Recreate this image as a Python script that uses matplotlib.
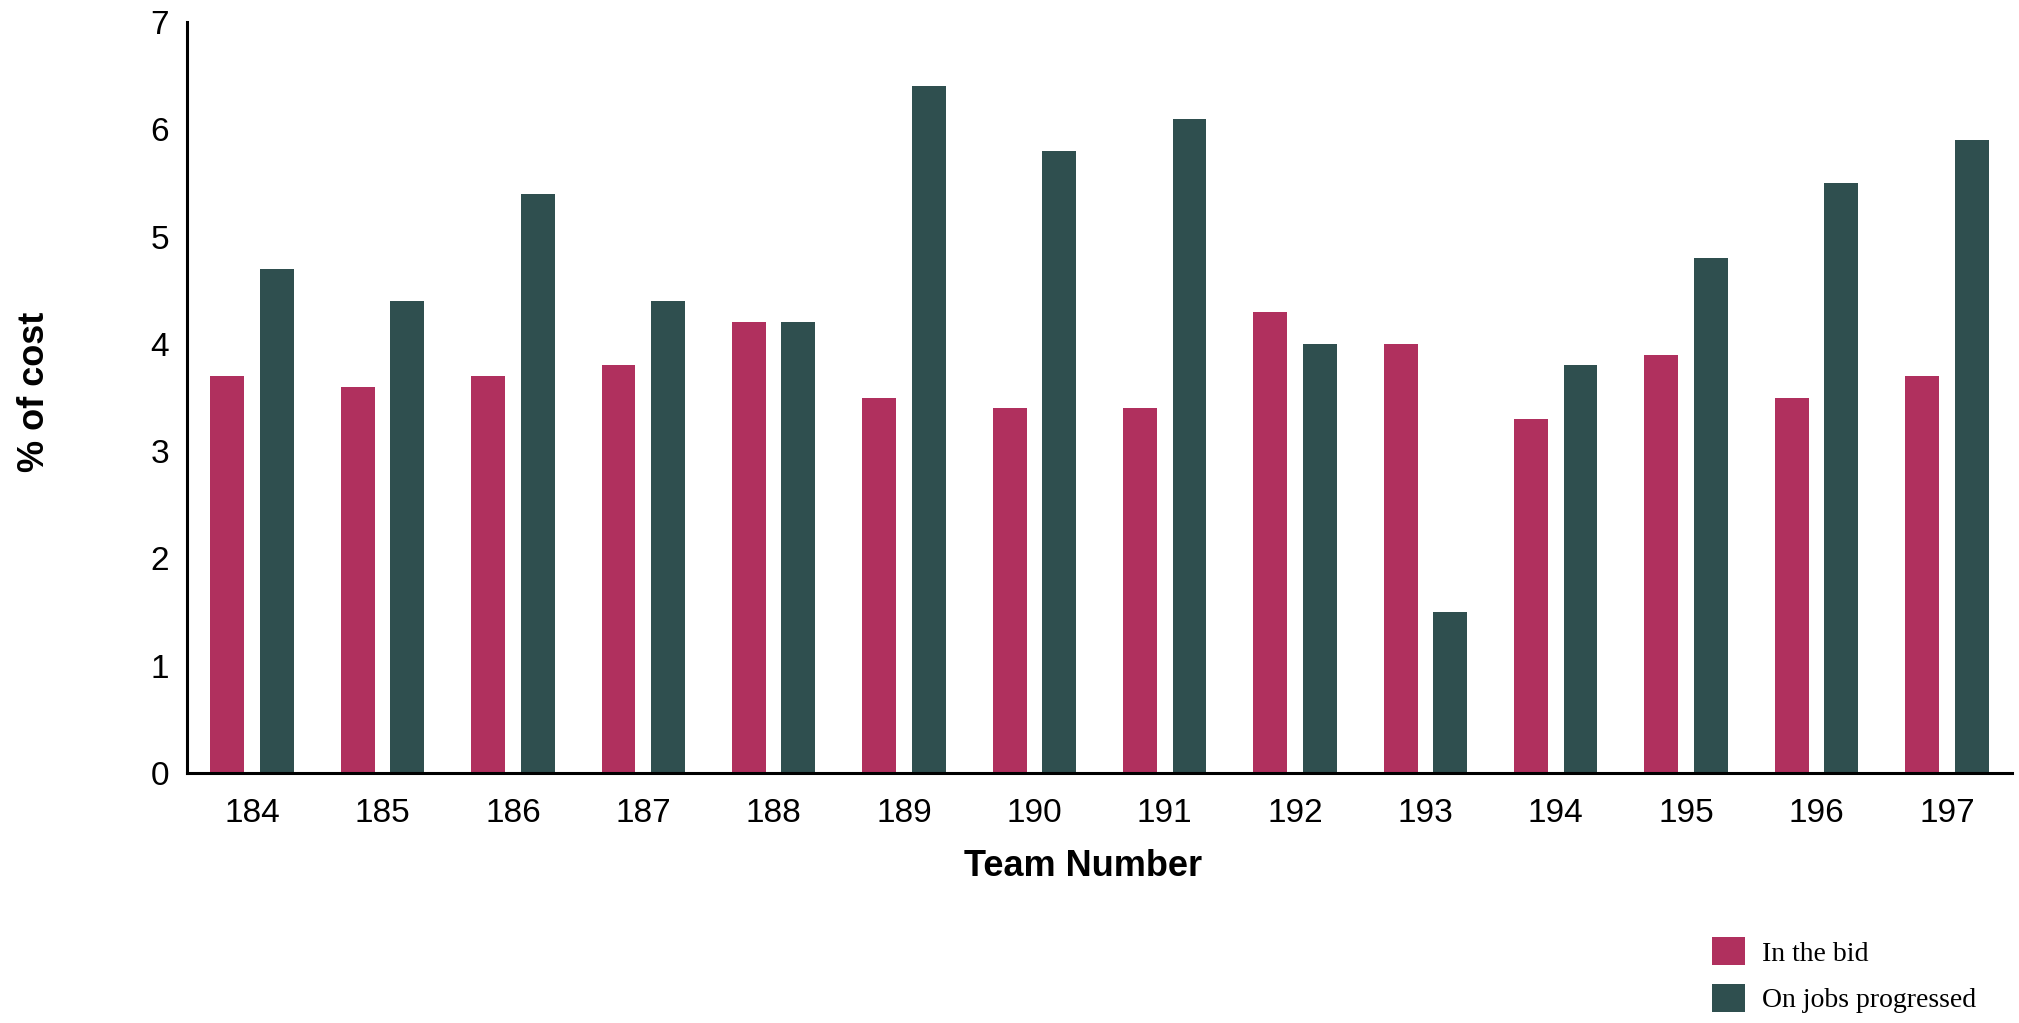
import numpy as np
import matplotlib
matplotlib.use("Agg")
import matplotlib.pyplot as plt

# data
teams = ["184", "185", "186", "187", "188", "189", "190",
         "191", "192", "193", "194", "195", "196", "197"]
in_bid = [3.7, 3.6, 3.7, 3.8, 4.2, 3.5, 3.4, 3.4, 4.3, 4.0, 3.3, 3.9, 3.5, 3.7]
on_jobs = [4.7, 4.4, 5.4, 4.4, 4.2, 6.4, 5.8, 6.1, 4.0, 1.5, 3.8, 4.8, 5.5, 5.9]

pink = "#B0305E"
green = "#2F4F4F"

fig = plt.figure(figsize=(20.19, 10.23), dpi=100)
ax = fig.add_axes([187/2019, 250/1023, (2012-187)/2019, (1001-250)/1023])

x = np.arange(len(teams))
w = 0.26
off = 0.19
ax.bar(x - off, in_bid, width=w, color=pink, label="In the bid")
ax.bar(x + off, on_jobs, width=w, color=green, label="On jobs progressed")

ax.set_xlim(-0.5, len(teams) - 0.5)
ax.set_ylim(0, 7)
ax.set_yticks(range(8))
ax.set_xticks(x)
ax.set_xticklabels(teams)

for s in ["top", "right"]:
    ax.spines[s].set_visible(False)
for s in ["left", "bottom"]:
    ax.spines[s].set_linewidth(2.2)
    ax.spines[s].set_color("black")

ax.tick_params(axis="y", length=0, labelsize=24, pad=13)
ax.tick_params(axis="x", length=0, labelsize=24, pad=18)
for lbl in ax.get_xticklabels() + ax.get_yticklabels():
    lbl.set_family("Liberation Sans")

# axis titles
fig.text(1083/2019, 1 - 866/1023, "Team Number", ha="center", va="center",
         fontsize=26, fontweight="bold", family="Liberation Sans")
fig.text(34/2019, 1 - 392/1023, "% of cost", ha="center", va="center", rotation=90,
         fontsize=26, fontweight="bold", family="Liberation Sans")

fig.legend(loc="upper left", bbox_to_anchor=(1712/2019, (1023-937)/1023),
           frameon=False, borderpad=0, borderaxespad=0,
           handlelength=1.2, handleheight=1.2, handletextpad=0.6,
           labelspacing=0.62, prop={"family": "Liberation Serif", "size": 20})

fig.savefig("out.png", dpi=100, facecolor="white")
